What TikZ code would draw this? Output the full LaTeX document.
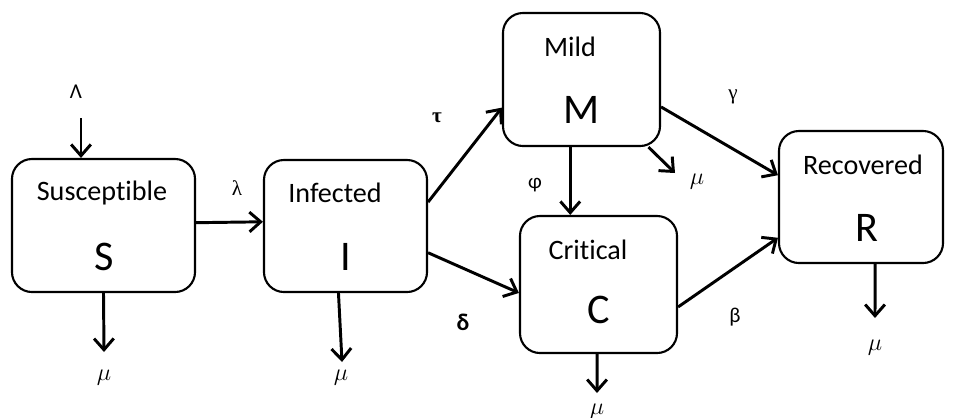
\documentclass[tikz,border=0pt]{standalone}
\usepackage{fontspec}
\setmainfont{Carlito}[Ligatures=NoCommon]
\newfontfamily\grk{Liberation Serif}
\usetikzlibrary{arrows.meta}
\begin{document}
\begin{tikzpicture}[x=0.025cm,y=-0.025cm,line join=round,
	>={Straight Barb[length=8pt,width=14pt,line width=2.1pt]},
	box/.style={draw,line width=1.5pt,rounded corners=0.5cm,inner sep=0pt},
	flow/.style={->,line width=2.1pt},
	compname/.style={font=\fontsize{20}{24}\selectfont},
	completter/.style={font=\fontsize{30}{36}\selectfont},
	rate/.style={font=\fontsize{15}{18}\selectfont},
	death/.style={font=\fontsize{17}{20}\selectfont}]
	
	\useasboundingbox (0,0) rectangle (959,417);
	% compartments
	\node[box,minimum width=4.575cm,minimum height=3.325cm] (S) at (103.5,225.5) {};
	\node[box,minimum width=4.075cm,minimum height=3.3cm] (I) at (345.5,226) {};
	\node[box,minimum width=3.925cm,minimum height=3.325cm] (M) at (581.5,79.5) {};
	\node[box,minimum width=3.925cm,minimum height=3.425cm] (C) at (598.5,284.5) {};
	\node[box,minimum width=4.1cm,minimum height=3.3cm] (R) at (861,197) {};
	\node[compname] (Sname) at (102,193) {Susceptible};
	\node[completter] (Slet) at (104,257) {S};
	\node[compname] (Iname) at (335,193) {Infected};
	\node[completter] (Ilet) at (346,257) {I};
	\node[compname] (Mname) at (570,47) {Mild};
	\node[completter] (Mlet) at (582,110) {M};
	\node[compname] (Cname) at (588,250) {Critical};
	\node[completter] (Clet) at (599,310) {C};
	\node[compname] (Rname) at (863,165) {Recovered};
	\node[completter] (Rlet) at (867,228) {R};
	
	% rates
	\node[rate] (Lam) at (76,92) {Λ};
	\node[rate] (lam) at (237,188) {\grk λ};
	\node[rate] (tau) at (437,118) {\grk\bfseries τ};
	\node[rate,font=\fontsize{17}{20}\selectfont\bfseries] (del) at (463,322) {δ};
	\node[rate] (phi) at (535,185) {φ};
	\node[rate] (gam) at (733,97) {\grk γ};
	\node[rate] (bet) at (735,317) {β};
	\node[death] (muS) at (104,378) {$\mu$};
	\node[death] (muI) at (341,378) {$\mu$};
	\node[death] (muM) at (697,182) {$\mu$};
	\node[death] (muC) at (597,412) {$\mu$};
	\node[death] (muR) at (875,348) {$\mu$};
	
	% free ends
	\coordinate (inS) at (81,118);
	\coordinate (outS) at (104,352);
	\coordinate (outI) at (342,362);
	\coordinate (outM) at (675,173);
	\coordinate (outC) at (597,393);
	\coordinate (outR) at (875,318);
	
	% flows
	\draw[flow] (inS) -- (inS |- S.north);
	\draw[flow] (S.south) -- (outS);
	\draw[flow] ([yshift=2pt]S.east) -- ([yshift=3pt]I.west);
	\draw[flow] ([xshift=-5pt]I.south) -- (outI);
	\draw[flow] ([yshift=17pt]I.east) -- ([yshift=-20pt]M.west);
	\draw[flow] ([yshift=-19pt]I.east) -- ([yshift=-6pt]C.west);
	\draw[flow] ([xshift=-8pt]M.south) -- ([xshift=-8pt]M.south |- C.north);
	\draw[flow] ([xshift=-9pt]M.south east) -- (outM);
	\draw[flow] ([yshift=-19.5pt]M.east) -- ([yshift=15.5pt]R.west);
	\draw[flow] ([yshift=-16pt]C.east) -- ([yshift=-29pt]R.west);
	\draw[flow] ([xshift=-1pt]C.south) -- (outC);
	\draw[flow] ([xshift=10pt]R.south) -- (outR);
\end{tikzpicture}
\end{document}
